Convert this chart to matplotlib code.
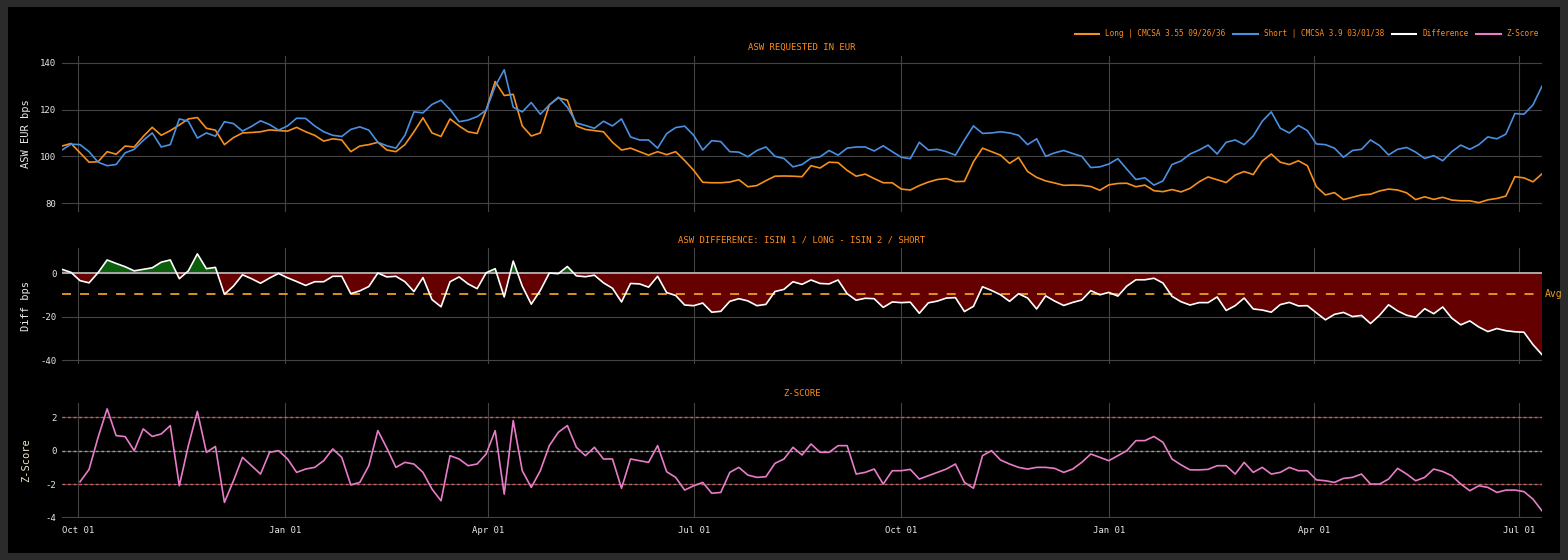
import numpy as np
import pandas as pd
import matplotlib
matplotlib.use('Agg')
import matplotlib.pyplot as plt
import matplotlib.dates as mdates
from matplotlib.lines import Line2D
from matplotlib.patches import Rectangle

plt.rcParams['font.family'] = ['DejaVu Sans Mono']
plt.rcParams['axes.unicode_minus'] = False

# one point every 4 days
dates = pd.date_range('2022-09-24', periods=165, freq='4D')

long_asw = [104.4, 105.5, 101.5, 97.5, 97.7, 102, 100.9, 104.4, 104, 108.5, 112.4, 109, 111, 113.4, 116, 116.6,
            112, 111.2, 105, 108, 110, 110.2, 110.5, 111.3, 111, 110.8, 112.4, 110.5, 109, 106.5, 107.5, 107,
            102, 104.4, 105, 106, 102.7, 102,
            105, 110.5, 116.5, 110, 108.5, 116, 113, 110.5, 109.8, 119.8, 132, 126, 126.5, 113, 108.7, 110,
            122, 125, 124, 113, 111.5, 111, 110.5, 106, 102.7, 103.5, 102, 100.5, 102, 100.7, 102, 98.2,
            94, 88.9, 88.7, 88.7, 89, 90, 87, 87.5, 89.6, 91.5, 91.6, 91.5,
            91.3, 96, 95, 97.5, 97.3, 94, 91.5, 92.4, 90.5, 88.7, 88.7, 86, 85.6, 87.5, 89, 90.1, 90.5, 89.2,
            89.3, 97.7, 103.5, 102, 100.5, 97, 99.5, 93.5, 91, 89.5, 88.6, 87.6, 87.7, 87.6, 87.1, 85.5, 87.8,
            88.4, 88.5, 87, 87.7, 85.3, 84.9, 85.8, 84.8, 86.3, 89.1,
            91.2, 90, 88.8, 92, 93.5, 92.2, 98, 101, 97.5, 96.5, 98.1, 96, 87, 83.5, 84.5, 81.5, 82.5, 83.5,
            83.8, 85.2, 86, 85.6, 84.4, 81.5, 82.7, 81.6, 82.5, 81.3, 81, 81, 80.2, 81.4, 82, 83, 91.3, 90.8,
            89.1, 92.5]

short_asw = [102.7, 105.2, 105, 102, 97.5, 96, 96.5, 101.5, 103, 106.8, 110, 104, 105, 116, 115, 107.8,
             110, 108.6, 114.8, 114, 110.8, 112.8, 115.2, 113.6, 111.2, 113, 116.3, 116.2, 113, 110.5, 109,
             108.5, 111.5, 112.6, 111.2, 106, 104.5, 103.5,
             109, 119, 118.6, 122.2, 124, 120, 114.8, 115.5, 117, 119.7, 130, 137, 121, 119, 123, 118, 122,
             125.3, 121, 114.3, 113.2, 112, 115, 113, 116, 108.3, 107, 107, 103.5, 109.7, 112.3, 112.9, 109,
             102.7, 106.7, 106.3, 102, 101.8, 99.8, 102.5, 104, 100, 99.1, 95.5,
             96.5, 99.2, 99.8, 102.5, 100.5, 103.5, 104, 104, 102.3, 104.5, 102, 99.6, 99, 106, 102.7, 103,
             102, 100.5, 107, 113, 109.8, 110, 110.5, 110, 109, 105, 107.5, 100, 101.5, 102.5, 101.2, 100,
             95.2, 95.5, 96.7, 99, 94.5, 90.1, 90.8, 87.7, 89.5, 96.5, 98, 101, 102.7,
             104.8, 101, 106, 107, 105, 108.7, 115, 119, 112, 110, 113.2, 111, 105.3, 105, 103.5, 99.6, 102.5,
             103, 107, 104.6, 100.6, 103, 103.8, 101.8, 99.1, 100.3, 98.1, 102, 104.8, 103, 105, 108.3, 107.5,
             109.5, 118.3, 118, 122, 130]

zscore = [np.nan, np.nan, -1.86, -1.12, 0.8, 2.5, 0.9, 0.84, 0.0, 1.3, 0.85, 1.0, 1.5, -2.1, 0.3, 2.35,
          -0.1, 0.25, -3.1, -1.8, -0.4, -0.9, -1.4, -0.1, 0.0, -0.5, -1.3, -1.1, -1.0, -0.6, 0.1, -0.4,
          -2.05, -1.9, -0.9, 1.2, 0.15, -1.0,
          -0.7, -0.8, -1.3, -2.3, -3.0, -0.3, -0.5, -0.9, -0.8, -0.2, 1.2, -2.6, 1.8, -1.2, -2.2, -1.2,
          0.3, 1.1, 1.5, 0.2, -0.3, 0.2, -0.5, -0.5, -2.25, -0.5, -0.6, -0.7, 0.3, -1.26, -1.6, -2.36,
          -2.1, -1.9, -2.55, -2.5, -1.3, -1.0, -1.46, -1.6, -1.56, -0.76, -0.5, 0.2,
          -0.26, 0.4, -0.1, -0.1, 0.3, 0.3, -1.4, -1.3, -1.1, -2.0, -1.2, -1.2, -1.12, -1.7, -1.5, -1.3,
          -1.1, -0.8, -1.9, -2.25, -0.3, 0.0, -0.56, -0.8, -1.0, -1.1, -1.0, -1.0, -1.06, -1.3, -1.1, -0.7,
          -0.2, -0.4, -0.6, -0.3, 0.0, 0.6, 0.6, 0.85, 0.5, -0.5, -0.85, -1.15, -1.15,
          -1.12, -0.9, -0.9, -1.4, -0.7, -1.3, -1.0, -1.4, -1.3, -1.0, -1.2, -1.2, -1.75, -1.8, -1.9, -1.66,
          -1.6, -1.4, -2.0, -2.0, -1.7, -1.06, -1.4, -1.8, -1.6, -1.1, -1.25, -1.5, -2.0, -2.4, -2.1, -2.2,
          -2.5, -2.36, -2.36, -2.45, -2.9, -3.6]

long_name = 'Long | CMCSA 3.55 09/26/36'
short_name = 'Short | CMCSA 3.9 03/01/38'
titles = ['ASW REQUESTED IN EUR', 'ASW DIFFERENCE: ISIN 1 / LONG - ISIN 2 / SHORT', 'Z-SCORE']

c_long = '#f5901e'
c_short = '#4a90e2'
c_z = '#e87cc8'
c_txt = '#ff8c1a'
c_tick = '#e8e8e8'
c_grid = '#444444'

long_asw = np.array(long_asw)
short_asw = np.array(short_asw)
zscore = np.array(zscore)
diff = long_asw - short_asw
avg = diff.mean()

W, H = 1568, 560
fig = plt.figure(figsize=(W / 100, H / 100), dpi=100, facecolor='#2b2b2b')
fig.patches.append(Rectangle((8 / W, 7 / H), 1552 / W, 546 / H, transform=fig.transFigure,
                             facecolor='black', edgecolor='none', zorder=-10))

L, R = 62 / W, 1542 / W
def box(top, bot):
    return [L, 1 - bot / H, R - L, (bot - top) / H]

ax1 = fig.add_axes(box(56, 212))
ax2 = fig.add_axes(box(248, 364), sharex=ax1)
ax3 = fig.add_axes(box(402.7, 518), sharex=ax1)

for ax in (ax1, ax2, ax3):
    ax.set_facecolor('black')
    for s in ax.spines.values():
        s.set_visible(False)
    ax.grid(True, color=c_grid, lw=0.8)
    ax.set_axisbelow(True)
    ax.tick_params(length=0, colors=c_tick, labelsize=6.5, pad=4)

ax1.plot(dates, long_asw, color=c_long, lw=1.2)
ax1.plot(dates, short_asw, color=c_short, lw=1.2)
ax1.set_ylim(76.2, 142.9)
ax1.set_yticks([80, 100, 120, 140])
ax1.set_ylabel('ASW EUR bps', color=c_tick, fontsize=7.5)

ax2.fill_between(dates, diff, 0, where=diff >= 0, interpolate=True, color='#0b5e0b', lw=0)
ax2.fill_between(dates, diff, 0, where=diff <= 0, interpolate=True, color='#640000', lw=0)
ax2.axhline(0, color='#a8a8a8', lw=1.4)
ax2.axhline(avg, color='#e8a020', lw=1.3, ls=(0, (5, 5)))
ax2.plot(dates, diff, color='white', lw=1.2)
ax2.text(1.002, avg, 'Avg', transform=ax2.get_yaxis_transform(), color='#e8a020',
         fontsize=7, va='center', ha='left')
ax2.set_ylim(-41.8, 11.5)
ax2.set_yticks([-40, -20, 0])
ax2.set_ylabel('Diff bps', color=c_tick, fontsize=7.5)

for lvl, col in [(2, '#d06060'), (0, '#a0a0a0'), (-2, '#d06060')]:
    ax3.axhline(lvl, color=col, lw=1.0, ls=(0, (2, 2)))
ax3.plot(dates, zscore, color=c_z, lw=1.2)
ax3.set_ylim(-4.03, 2.87)
ax3.set_yticks([-4, -2, 0, 2])
ax3.set_ylabel('Z-Score', color='#efe6c8', fontsize=7.5)

# y labels at the same left position
lab_x = (31 - 62) / (1542 - 62)
for ax in (ax1, ax2, ax3):
    ax.yaxis.set_label_coords(lab_x, 0.5)

ax1.set_xlim(dates[0], dates[-1])
ax3.xaxis.set_major_locator(mdates.MonthLocator(bymonth=[1, 4, 7, 10]))
ax3.xaxis.set_major_formatter(mdates.DateFormatter('%b %d'))
ax3.tick_params(axis='x', pad=6)
plt.setp(ax1.get_xticklabels(), visible=False)
plt.setp(ax2.get_xticklabels(), visible=False)

cx = (L + R) / 2
for ttl, ty in zip(titles, [47, 240, 394]):
    fig.text(cx, 1 - ty / H, ttl, color=c_txt, fontsize=6.5, ha='center', va='center')

handles = [Line2D([], [], color=c_long, lw=1.5), Line2D([], [], color=c_short, lw=1.5),
           Line2D([], [], color='white', lw=1.5), Line2D([], [], color=c_z, lw=1.5)]
leg = fig.legend(handles, [long_name, short_name, 'Difference', 'Z-Score'], ncol=4,
                 loc='center right', bbox_to_anchor=(1546 / W, 1 - 34 / H), frameon=False,
                 fontsize=5.5, handlelength=3.2, columnspacing=1.0, handletextpad=0.8)
for t in leg.get_texts():
    t.set_color(c_txt)

fig.savefig('out.png', dpi=100, facecolor=fig.get_facecolor())
